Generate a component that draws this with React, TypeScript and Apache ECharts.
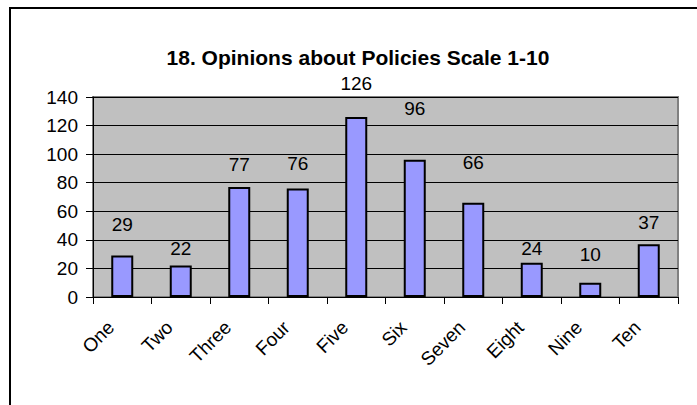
import React, { useEffect, useRef } from "react";
import * as echarts from "echarts";

const titleText = "18. Opinions about Policies Scale 1-10";
const categories = ["One", "Two", "Three", "Four", "Five", "Six", "Seven", "Eight", "Nine", "Ten"];
const counts = [29, 22, 77, 76, 126, 96, 66, 24, 10, 37];
// gap (px) between each bar's top and its value label, as placed in the original
const labelGaps = [22, 7.5, 13.5, 15, 24, 42, 31, 5, 18.5, 12.5];
const yMin = 0;
const yMax = 140;
const yStep = 20;

const FONT = 'Arial, "Liberation Sans", sans-serif';

export default function App() {
  const ref = useRef<HTMLDivElement>(null);
  useEffect(() => {
    if (!ref.current) return;
    const chart = echarts.init(ref.current, undefined, { renderer: "svg" });
    chart.setOption({
      animation: false,
      backgroundColor: "#ffffff",
      textStyle: { fontFamily: FONT },
      graphic: [
        {
          type: "rect",
          shape: { x: 10, y: 8, width: 720, height: 440 },
          style: { fill: "none", stroke: "#000000", lineWidth: 2 },
          silent: true,
          z: 100,
        },
        {
          type: "text",
          x: 358,
          y: 57,
          style: {
            text: titleText,
            font: `bold 21px ${FONT}`,
            fill: "#000000",
            textAlign: "center",
            textVerticalAlign: "middle",
          },
        },
      ],
      grid: {
        left: 93,
        right: 19,
        top: 97,
        bottom: 108,
        show: true,
        backgroundColor: "#c0c0c0",
        borderColor: "#808080",
        borderWidth: 2,
      },
      xAxis: {
        type: "category",
        data: categories,
        axisLine: { show: true, lineStyle: { color: "#000000", width: 1 } },
        axisTick: { show: true, alignWithLabel: false, length: 7, lineStyle: { color: "#000000" } },
        axisLabel: {
          rotate: 45,
          margin: 16,
          padding: [0, 16, 0, 0],
          fontSize: 19,
          color: "#000000",
          fontFamily: FONT,
          interval: 0,
        },
        splitLine: { show: false },
      },
      yAxis: {
        type: "value",
        min: yMin,
        max: yMax,
        interval: yStep,
        axisLine: { show: true, lineStyle: { color: "#000000", width: 1 } },
        axisTick: { show: true, length: 7, lineStyle: { color: "#000000" } },
        axisLabel: { margin: 15, fontSize: 19, color: "#000000", fontFamily: FONT },
        splitLine: { show: true, lineStyle: { color: "#000000", width: 1 } },
      },
      series: [
        {
          type: "bar",
          data: counts.map((v, i) => ({
            value: v,
            label: { distance: labelGaps[i] },
          })),
          barWidth: 22,
          itemStyle: { color: "#9999ff", borderColor: "#000000", borderWidth: 2 },
          label: {
            show: true,
            position: "top",
            distance: 20,
            fontSize: 19,
            color: "#000000",
            fontFamily: FONT,
          },
        },
      ],
    });
    return () => chart.dispose();
  }, []);
  return <div ref={ref} style={{ width: 697, height: 405, position: "absolute", left: 0, top: 0 }} />;
}
